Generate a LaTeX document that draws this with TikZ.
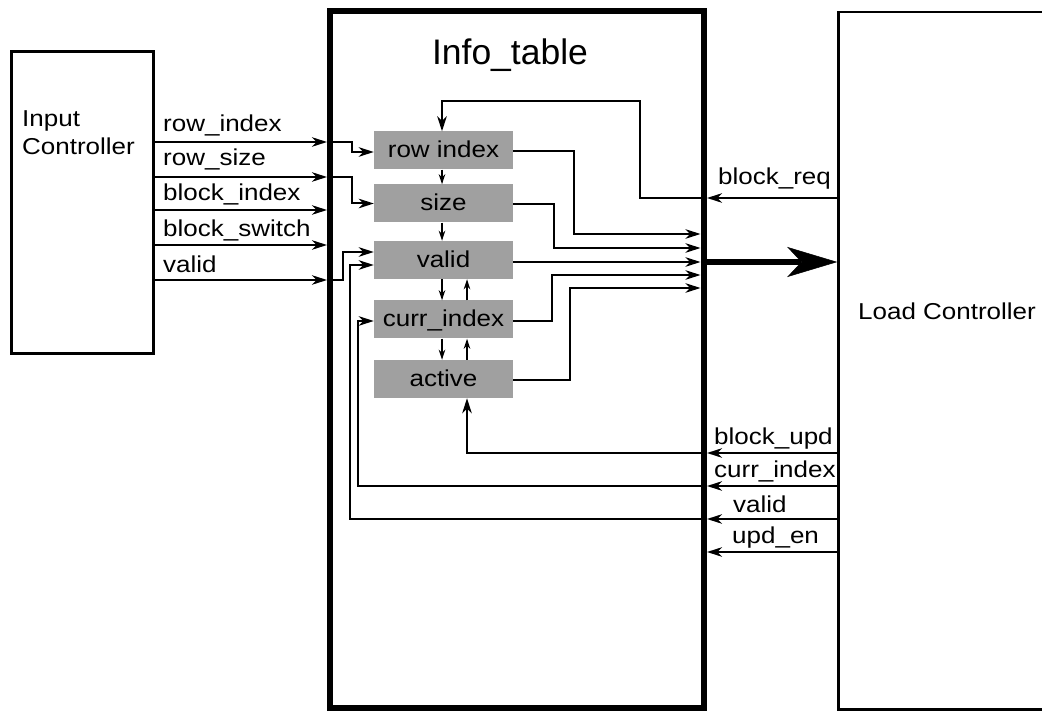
\documentclass[tikz,border=0pt]{standalone}
\usepackage{fontspec}
\setmainfont{Liberation Sans}
\usepackage{graphicx}
\usetikzlibrary{arrows.meta}
\definecolor{blockgray}{RGB}{160,160,160}
\newcommand{\wlbl}[1]{\scalebox{1.13}[1]{#1}}
\tikzset{
  lbl/.style={font=\fontsize{23}{27}\selectfont, inner sep=0pt, anchor=base west},
  blockbox/.style={fill=blockgray, minimum width=139pt, minimum height=38pt, inner sep=0pt,
    text height=17pt, text depth=2pt, font=\fontsize{23}{27}\selectfont},
  wire/.style={line width=2pt, -{Stealth[length=15pt,width=9.5pt,inset=4.5pt]}},
  smallwire/.style={line width=1.6pt, -{Stealth[length=10pt,width=6.5pt,inset=3pt]}},
  bigwire/.style={line width=6pt, -{Stealth[length=50pt,width=30pt,inset=14pt,line width=0.5pt]}},
}
\begin{document}
\begin{tikzpicture}[x=1pt,y=-1pt]
\useasboundingbox (0,0) rectangle (1042,711);
\fill[white] (0,0) rectangle (1042,711);
\clip (0,0) rectangle (1042,711);

% main boxes
\node[draw, line width=3pt, minimum width=142.5pt, minimum height=302.5pt, inner sep=0pt] (inctl) at (82.25,202.75) {};
\node[draw, line width=6pt, minimum width=373.5pt, minimum height=697pt, inner sep=0pt] (info) at (516.75,359.5) {};
\node[draw, line width=2.5pt, minimum width=261.5pt, minimum height=697.5pt, inner sep=0pt] (lctl) at (969.25,360.75) {};

% box texts
\node[lbl] (inctext1) at (22,127) {\wlbl{Input}};
\node[lbl] (inctext2) at (22,155) {\wlbl{Controller}};
\node[font=\fontsize{35.5}{42}\selectfont, anchor=base, inner sep=0pt] (title) at (510,65) {Info\_table};
\node[lbl, anchor=base] (lctext) at (947,320) {\wlbl{Load Controller}};

% inner blocks
\node[blockbox] (ri) at (443.5,150.5) {\wlbl{row index}};
\node[blockbox] (sz) at (443.5,203.5) {\wlbl{size}};
\node[blockbox] (vd) at (443.5,260) {\wlbl{valid}};
\node[blockbox] (ci) at (443.5,319.5) {\wlbl{curr\_index}};
\node[blockbox] (ac) at (443.5,379) {\wlbl{active}};

% left side inputs
\coordinate (L1b) at (327,142);
\coordinate (L2b) at (327,177);
\coordinate (L3b) at (327,210);
\coordinate (L4b) at (327,245);
\coordinate (L5b) at (327,280);
\draw[wire] (inctl.east |- L1b) -- (L1b);
\draw[wire] (inctl.east |- L2b) -- (L2b);
\draw[wire] (inctl.east |- L3b) -- (L3b);
\draw[wire] (inctl.east |- L4b) -- (L4b);
\draw[wire] (inctl.east |- L5b) -- (L5b);
\node[lbl] (t1) at (163,132) {\wlbl{row\_index}};
\node[lbl] (t2) at (163,166) {\wlbl{row\_size}};
\node[lbl] (t3) at (163,201) {\wlbl{block\_index}};
\node[lbl] (t4) at (163,237) {\wlbl{block\_switch}};
\node[lbl] (t5) at (163,273) {\wlbl{valid}};

% internal routes from left
\draw[wire] (L1b) -- ++(25,0) |- (ri.west |- 0,152);
\draw[wire] (L2b) -- ++(25,0) |- (sz.west);
\draw[wire] (L5b) -- ++(16,0) |- (vd.west |- 0,252);

% right side inputs
\coordinate (R0b) at (707,198);
\coordinate (R1b) at (707,453);
\coordinate (R2b) at (707,486);
\coordinate (R3b) at (707,519);
\coordinate (R4b) at (707,552);
\draw[wire] (lctl.west |- R0b) -- (R0b);
\draw[wire] (lctl.west |- R1b) -- (R1b);
\draw[wire] (lctl.west |- R2b) -- (R2b);
\draw[wire] (lctl.west |- R3b) -- (R3b);
\draw[wire] (lctl.west |- R4b) -- (R4b);
\node[lbl] (r0) at (718,185) {\wlbl{block\_req}};
\node[lbl] (r1) at (714,444) {\wlbl{block\_upd}};
\node[lbl] (r2) at (714,477) {\wlbl{curr\_index}};
\node[lbl] (r3) at (733,512) {\wlbl{valid}};
\node[lbl] (r4) at (732,543) {\wlbl{upd\_en}};

% internal routes from right
\draw[wire] (R0b) -- (640,198) |- (442,101) -- (ri.north -| 442,0);
\draw[wire] (R1b) -| (ac.south -| 467,0);
\draw[wire] (R2b) -| (358,321) -- (ci.west |- 0,321);
\draw[wire] (R3b) -| (350,265) -- (vd.west |- 0,265);

% outputs to right border
\coordinate (O1) at (700.5,234);
\coordinate (O2) at (700.5,248);
\coordinate (O3) at (700.5,262);
\coordinate (O4) at (700.5,275);
\coordinate (O5) at (700.5,288);
\draw[wire] (ri.east |- 0,151) -| (574,234) -- (O1);
\draw[wire] (sz.east |- 0,204) -| (554,248) -- (O2);
\draw[wire] (vd.east |- 0,262) -- (O3);
\draw[wire] (ci.east |- 0,321) -| (552,275) -- (O4);
\draw[wire] (ac.east |- 0,380) -| (570,288) -- (O5);

% big output arrow
\coordinate (B1) at (707,262);
\draw[bigwire] (B1) -- (lctl.west |- B1);

% arrows between blocks
\draw[smallwire] (ri.south -| 442,0) -- (sz.north -| 442,0);
\draw[smallwire] (sz.south -| 442,0) -- (vd.north -| 442,0);
\draw[smallwire] (vd.south -| 442,0) -- (ci.north -| 442,0);
\draw[smallwire] (ci.north -| 467,0) -- (vd.south -| 467,0);
\draw[smallwire] (ci.south -| 442,0) -- (ac.north -| 442,0);
\draw[smallwire] (ac.north -| 467,0) -- (ci.south -| 467,0);
\end{tikzpicture}
\end{document}
